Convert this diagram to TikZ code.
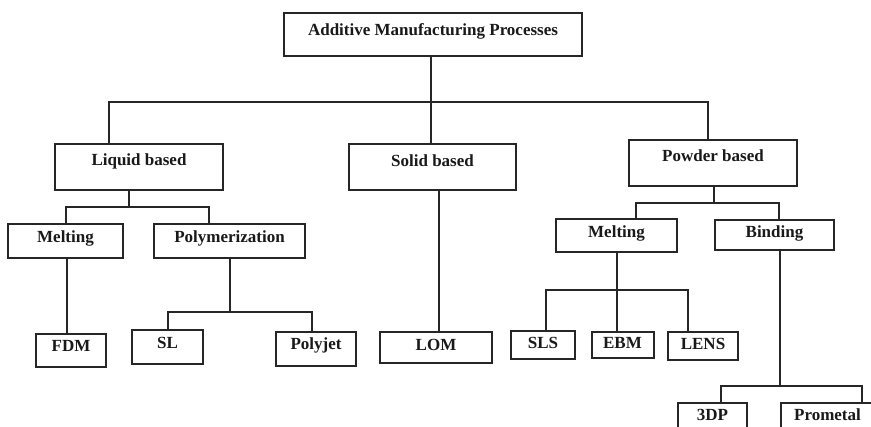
\documentclass[tikz,border=0pt]{standalone}
\usepackage{fontspec}
\setmainfont{Liberation Serif}
\begin{document}
\begin{tikzpicture}[x=1pt,y=-1pt,
  line width=2pt, color=black!85,
  box/.style={draw=black!85, line width=2pt, rectangle, inner sep=0pt,
    font=\fontsize{17}{20}\selectfont\bfseries, text=black!90,
    text height=12pt, text depth=#1},
  box/.default=8.8pt,
  conn/.style={draw=black!85, line width=2pt}]
\useasboundingbox (0,0) rectangle (871,427);
\clip (0,0) rectangle (871,427);
\fill[white] (0,0) rectangle (871,427);

% nodes
\node[box=9.8pt, minimum width=298, minimum height=43] (title) at (433,34.5) {Additive Manufacturing Processes};
\node[box=14.8pt, minimum width=168, minimum height=46] (liquid) at (139,167) {Liquid based};
\node[box=12.8pt, minimum width=167, minimum height=46] (solid) at (432.5,167) {Solid based};
\node[box=14.8pt, minimum width=168, minimum height=46] (powder) at (713,163) {Powder based};

\node[box=8.8pt, minimum width=115, minimum height=34] (melt1) at (65.5,241) {Melting};
\node[box=8.8pt, minimum width=151, minimum height=34] (poly) at (229.5,241) {Polymerization};
\node[box=7.8pt, minimum width=121, minimum height=33] (melt2) at (616.5,235.5) {Melting};
\node[box=6.8pt, minimum width=119, minimum height=30] (binding) at (774.5,235) {Binding};

\node[box=9.8pt, minimum width=70, minimum height=33] (fdm) at (71,350.5) {FDM};
\node[box=8.8pt, minimum width=71, minimum height=34] (sl) at (167.5,347) {SL};
\node[box=10.8pt, minimum width=80, minimum height=34] (polyjet) at (316,349) {Polyjet};
\node[box=5.8pt, minimum width=112, minimum height=31] (lom) at (436,347.5) {LOM};
\node[box=5.8pt, minimum width=64, minimum height=28] (sls) at (543,345.5) {SLS};
\node[box=4.8pt, minimum width=62, minimum height=26] (ebm) at (622.5,345) {EBM};
\node[box=4.8pt, minimum width=70, minimum height=28] (lens) at (703,346) {LENS};
\node[box=10.8pt, minimum width=69, minimum height=34] (tdp) at (712.5,420) {3DP};
\node[box=10.8pt, minimum width=93, minimum height=34] (prometal) at (827.5,420) {Prometal};

% level 1
\coordinate (b0) at (431,102);
\draw[conn] (b0 |- title.south) -- (b0);
\draw[conn] ([xshift=-30pt]liquid.north) |- (b0) -| ([xshift=-5pt]powder.north);
\draw[conn] (b0) -- (b0 |- solid.north);

% liquid
\coordinate (b1) at (129,207);
\draw[conn] (b1 |- liquid.south) -- (b1);
\draw[conn] (melt1.north) |- (b1) -| ([xshift=-20.5pt]poly.north);
\draw[conn] ([xshift=1.5pt]melt1.south) -- ([xshift=1.5pt]melt1.south |- fdm.north);

% polymerization
\coordinate (b2) at (230,312);
\draw[conn] (b2 |- poly.south) -- (b2);
\draw[conn] (sl.north) |- (b2) -| ([xshift=-4pt]polyjet.north);

% solid
\draw[conn] ([xshift=6.5pt]solid.south) -- ([xshift=6.5pt]solid.south |- lom.north);

% powder
\coordinate (b3) at (714,203);
\draw[conn] (b3 |- powder.south) -- (b3);
\draw[conn] ([xshift=19.5pt]melt2.north) |- (b3) -| ([xshift=4.5pt]binding.north);

% melting (powder)
\coordinate (b4) at (617,290);
\draw[conn] (b4 |- melt2.south) -- (b4);
\draw[conn] ([xshift=3pt]sls.north) |- (b4) -| ([xshift=-15pt]lens.north);
\draw[conn] (b4) -- (b4 |- ebm.north);

% binding
\coordinate (b5) at (780,386);
\draw[conn] (b5 |- binding.south) -- (b5);
\draw[conn] ([xshift=8.5pt]tdp.north) |- (b5) -| ([xshift=34.5pt]prometal.north);
\end{tikzpicture}
\end{document}
